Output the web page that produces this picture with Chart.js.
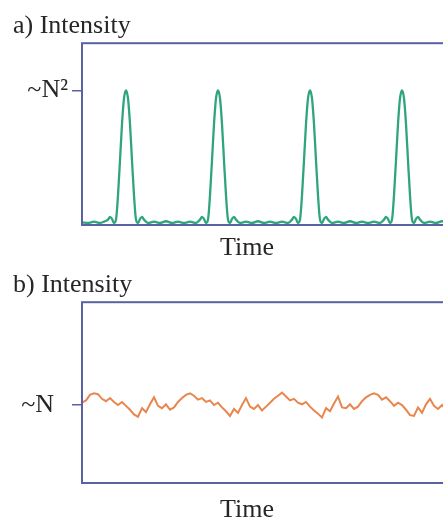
<!DOCTYPE html>
<html>
<head>
<meta charset="utf-8">
<script src="https://cdn.jsdelivr.net/npm/chart.js@4.4.0/dist/chart.umd.min.js"></script>
<style>
  html, body { margin: 0; padding: 0; background: #fff; overflow: hidden; width: 443px; height: 524px; }
  canvas { position: absolute; left: 0; }
  #chartA { top: 0; }
  #chartB { top: 259px; }
</style>
</head>
<body>
<canvas id="chartA" width="482" height="262"></canvas>
<canvas id="chartB" width="482" height="265"></canvas>
<script>
// a) pulsed intensity: time samples and intensity (N^2 = 100)
const timeA = [
  0, 3, 6, 9, 11, 13, 14, 15, 16, 17, 18, 19, 20, 21, 22, 23, 24, 25, 26, 27, 28, 29, 30, 31,
  33, 36, 39, 42, 45, 48, 51, 54, 57,
  59, 60, 61, 62, 63, 64, 65, 66, 67, 68, 69, 70, 71, 72, 73, 74, 75, 76, 77,
  79, 82, 85, 88, 91, 94, 97, 100, 103,
  105, 106, 107, 108, 109, 110, 111, 112, 113, 114, 115, 116, 117, 118, 119, 120, 121, 122, 123,
  125, 128, 131, 134, 137, 140, 143, 146, 149,
  151, 152, 153, 154, 155, 156, 157, 158, 159, 160, 161, 162, 163, 164, 165, 166, 167, 168, 169,
  171, 174, 177, 180, 183, 186, 189, 192, 195, 197, 198, 199, 200
];
const intensityA = [
  2, 1.5, 2.5, 1.5, 2.5, 4, 6, 4.5, 1.5, 4, 22, 48, 75, 94, 100, 94, 75, 48, 22, 4, 1.5, 4.5, 6, 4,
  1.5, 2.5, 1.5, 2.8, 1.5, 2.5, 1.5, 2.5, 1.5,
  4, 6, 4.5, 1.5, 4, 22, 48, 75, 94, 100, 94, 75, 48, 22, 4, 1.5, 4.5, 6, 4,
  1.5, 2.5, 1.5, 2.8, 1.5, 2.5, 1.5, 2.5, 1.5,
  4, 6, 4.5, 1.5, 4, 22, 48, 75, 94, 100, 94, 75, 48, 22, 4, 1.5, 4.5, 6, 4,
  1.5, 2.5, 1.5, 2.8, 1.5, 2.5, 1.5, 2.5, 1.5,
  4, 6, 4.5, 1.5, 4, 22, 48, 75, 94, 100, 94, 75, 48, 22, 4, 1.5, 4.5, 6, 4,
  1.5, 2.5, 1.5, 2.8, 1.5, 2.5, 1.5, 2.5, 1.5, 4, 6, 4.5, 1.5
];

// b) continuous (noisy) intensity, sampled every 2 time units (N = 100)
const timeStepB = 2;
const intensityB = [
  103, 106, 113, 115, 114, 108, 105, 109, 104, 100, 104, 99, 94, 88, 85, 96, 91, 101, 110, 99, 96, 101, 94,
  97, 104, 109, 113, 115, 112, 107, 109, 104, 106, 100, 103, 97, 92, 86, 95, 90, 100, 109, 98, 95, 100, 93,
  98, 103, 108, 112, 116, 111, 106, 108, 103, 101, 104, 98, 93, 89, 84, 96, 92, 102, 111, 97, 96, 101, 95,
  98, 105, 110, 113, 115, 113, 107, 110, 105, 99, 103, 100, 94, 87, 86, 97, 90, 101, 108, 99, 95, 100, 94,
  97, 104, 109, 112, 115, 111, 106, 108, 104
];
const timeB = intensityB.map((v, i) => i * timeStepB);

const tickLabelsA = ['~N²'];
const tickLabelsB = ['~N'];
const tickValueN = 100;

const serif = "'Liberation Serif', 'Times New Roman', serif";
const frameColor = '#5a62a3';
const textColor = '#262626';

// draws the box round the plot and the "Time" caption under it
const framePlugin = {
  id: 'frame',
  afterDraw(chart, args, opts) {
    const { ctx, chartArea } = chart;
    ctx.save();
    ctx.strokeStyle = frameColor;
    ctx.lineWidth = 2;
    ctx.strokeRect(chartArea.left, chartArea.top, chartArea.right - chartArea.left, chartArea.bottom - chartArea.top);
    ctx.fillStyle = textColor;
    ctx.font = '26px ' + serif;
    ctx.textAlign = 'center';
    ctx.textBaseline = 'alphabetic';
    ctx.fillText(opts.caption, chart.scales.x.getPixelForValue(opts.captionAt), chartArea.bottom + opts.captionGap);
    ctx.restore();
  }
};

function makeChart(id, points, color, lineWidth, smooth, yMax, tickLabels, tickPad, title, padBottom, captionGap) {
  const ctx = document.getElementById(id).getContext('2d');
  return new Chart(ctx, {
    type: 'line',
    data: {
      datasets: [{
        data: points,
        borderColor: color,
        borderWidth: lineWidth,
        pointRadius: 0,
        fill: false,
        cubicInterpolationMode: smooth ? 'monotone' : 'default',
        tension: 0
      }]
    },
    options: {
      responsive: false,
      animation: false,
      layout: { padding: { left: 13, right: 0, top: 0, bottom: padBottom } },
      plugins: {
        legend: { display: false },
        tooltip: { enabled: false },
        title: {
          display: true,
          text: title,
          align: 'start',
          color: textColor,
          font: { family: serif, size: 26, weight: 'normal' },
          padding: { top: 11, bottom: 1 }
        },
        frame: { caption: 'Time', captionAt: 82.5, captionGap: captionGap }
      },
      scales: {
        x: { type: 'linear', min: 0, max: 200, display: false },
        y: {
          min: 0,
          max: yMax,
          afterBuildTicks: scale => { scale.ticks = [{ value: tickValueN }]; },
          afterFit: scale => { scale.width = 69; },
          ticks: {
            callback: (v, i) => tickLabels[i],
            color: textColor,
            font: { family: serif, size: 26 },
            padding: tickPad
          },
          grid: { drawOnChartArea: false, drawTicks: true, tickLength: 10, color: frameColor, lineWidth: 1.5 },
          border: { display: false }
        }
      }
    },
    plugins: [framePlugin]
  });
}

const pointsA = timeA.map((t, i) => ({ x: t, y: intensityA[i] }));
const pointsB = timeB.map((t, i) => ({ x: t, y: intensityB[i] }));

makeChart('chartA', pointsA, '#2ea57a', 2.3, true, 135, tickLabelsA, 4, 'a) Intensity', 37, 30);
makeChart('chartB', pointsB, '#e8864e', 2, false, 232, tickLabelsB, 18, 'b) Intensity', 41, 34);
</script>
</body>
</html>
